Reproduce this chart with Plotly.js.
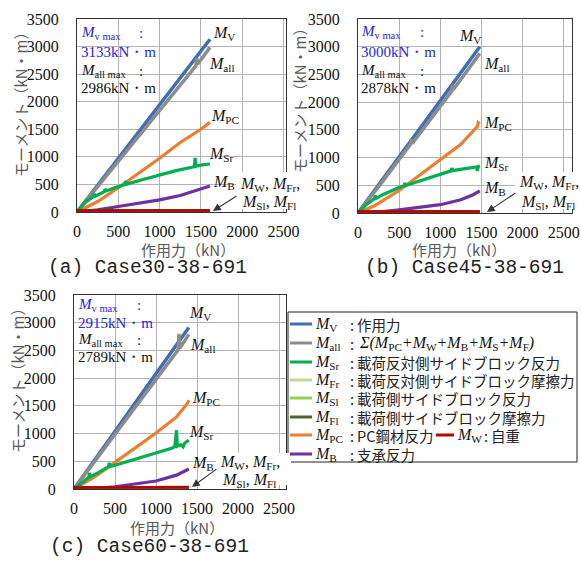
<!DOCTYPE html>
<html><head><meta charset="utf-8">
<script src="https://cdn.plot.ly/plotly-3.0.1.min.js"></script>
<style>html,body{margin:0;padding:0;background:#fff}#chart{width:581px;height:561px}</style>
</head><body><div id="chart"></div>
<script>
// ---------- DATA ----------
const xTicks = [0, 500, 1000, 1500, 2000, 2500];
const yTicks = [0, 500, 1000, 1500, 2000, 2500, 3000, 3500];
const captions = ["(a) Case30-38-691", "(b) Case45-38-691", "(c) Case60-38-691"];
const mvMaxText = ["3133kN・m", "3000kN・m", "2915kN・m"];
const mallMaxText = ["2986kN・m", "2878kN・m", "2789kN・m"];

// Panel (a) Case30
const a_xMV  = [0, 400, 800, 1200, 1610];
const a_MV   = [0, 780, 1560, 2335, 3133];
const a_xAll = [0, 400, 800, 1200, 1440, 1450, 1460, 1610];
const a_All  = [0, 735, 1475, 2210, 2650, 2790, 2680, 2986];
const a_xPC  = [0, 250, 500, 750, 1000, 1250, 1500, 1610];
const a_PC   = [0, 190, 440, 700, 975, 1260, 1500, 1625];
const a_xSr  = [0, 100, 200, 210, 220, 330, 340, 350, 500, 580, 590, 600, 800, 1000, 1200, 1420, 1430, 1440, 1500, 1610];
const a_Sr   = [0, 180, 280, 330, 285, 370, 420, 380, 460, 500, 560, 505, 590, 672, 750, 820, 980, 830, 850, 870];
const a_xB   = [0, 250, 500, 750, 1000, 1250, 1500, 1610];
const a_B    = [0, 40, 100, 160, 220, 300, 415, 470];
const a_xW   = [0, 800, 1610];
const a_W    = [25, 25, 28];
const a_xS   = [0, 800, 1610];
const a_Fr   = [2, 2, 2];
const a_Sl   = [1, 1, 1];
const a_Fl   = [0, 0, 0];

// Panel (b) Case45
const b_xMV  = [0, 400, 800, 1200, 1480];
const b_MV   = [0, 810, 1620, 2430, 3000];
const b_xAll = [0, 300, 640, 650, 660, 1000, 1140, 1150, 1160, 1480];
const b_All  = [0, 570, 1245, 1330, 1255, 1930, 2200, 2310, 2230, 2878];
const b_xPC  = [0, 200, 500, 750, 1000, 1250, 1450, 1460, 1480];
const b_PC   = [0, 130, 405, 680, 950, 1240, 1560, 1630, 1605];
const b_xSr  = [0, 100, 200, 210, 220, 300, 500, 560, 570, 580, 700, 1000, 1130, 1140, 1150, 1300, 1440, 1450, 1460, 1480];
const b_Sr   = [0, 150, 260, 320, 265, 330, 460, 490, 540, 495, 555, 700, 760, 810, 765, 800, 830, 760, 840, 850];
const b_xB   = [0, 250, 500, 750, 1000, 1250, 1400, 1480];
const b_B    = [0, 15, 55, 100, 150, 240, 330, 400];
const b_xW   = [0, 800, 1480];
const b_W    = [25, 25, 28];
const b_xS   = [0, 800, 1480];
const b_Fr   = [2, 2, 2];
const b_Sl   = [1, 1, 1];
const b_Fl   = [0, 0, 0];

// Panel (c) Case60
const c_xMV  = [0, 400, 800, 1200, 1400];
const c_MV   = [0, 835, 1665, 2500, 2915];
const c_xAll = [0, 400, 800, 1200, 1270, 1280, 1290, 1400];
const c_All  = [0, 790, 1590, 2380, 2510, 2800, 2540, 2789];
const c_xPC  = [0, 250, 500, 750, 1000, 1250, 1380, 1400];
const c_PC   = [0, 220, 480, 740, 1010, 1300, 1540, 1600];
const c_xSr  = [0, 100, 180, 190, 200, 300, 420, 430, 440, 500, 750, 1000, 1200, 1230, 1250, 1260, 1300, 1330, 1350, 1400];
const c_Sr   = [0, 120, 210, 290, 220, 300, 400, 470, 405, 430, 540, 640, 740, 770, 1060, 770, 800, 760, 830, 880];
const c_xB   = [0, 250, 500, 750, 1000, 1250, 1350, 1400];
const c_B    = [0, 10, 40, 90, 145, 250, 330, 360];
const c_xW   = [0, 700, 1400];
const c_W    = [25, 25, 35];
const c_xS   = [0, 700, 1400];
const c_Fr   = [2, 2, 2];
const c_Sl   = [1, 1, 1];
const c_Fl   = [0, 0, 0];

// ---------- STYLE ----------
const C = {MV:'#3f6fb0', All:'#8c8c8c', Sr:'#00b050', Fr:'#c4d79b', Sl:'#92d050', Fl:'#4f6228', PC:'#ed7d31', W:'#c00000', B:'#7030a0'};
const W = 581, H = 561;
const PX = x => x / W, PY = y => 1 - y / H;
const serif = 'Liberation Serif';
const jp = 'Noto Sans CJK JP';
const mono = 'Liberation Mono';

const panels = [
  {xa:'x',  ya:'y',  d:[a_xMV,a_MV,a_xAll,a_All,a_xPC,a_PC,a_xSr,a_Sr,a_xB,a_B,a_xW,a_W,a_xS,a_Fr,a_Sl,a_Fl]},
  {xa:'x2', ya:'y2', d:[b_xMV,b_MV,b_xAll,b_All,b_xPC,b_PC,b_xSr,b_Sr,b_xB,b_B,b_xW,b_W,b_xS,b_Fr,b_Sl,b_Fl]},
  {xa:'x3', ya:'y3', d:[c_xMV,c_MV,c_xAll,c_All,c_xPC,c_PC,c_xSr,c_Sr,c_xB,c_B,c_xW,c_W,c_xS,c_Fr,c_Sl,c_Fl]}
];
const traces = [];
function ln(x, y, color, w, xa, ya) {
  traces.push({type:'scatter', mode:'lines', x:x, y:y, xaxis:xa, yaxis:ya,
    line:{color:color, width:w}, hoverinfo:'skip', showlegend:false});
}
panels.forEach(p => {
  const d = p.d;
  ln(d[0], d[1], C.MV, 3.5, p.xa, p.ya);
  ln(d[2], d[3], C.All, 3.5, p.xa, p.ya);
  ln(d[4], d[5], C.PC, 3.2, p.xa, p.ya);
  ln(d[6], d[7], C.Sr, 3.2, p.xa, p.ya);
  ln(d[8], d[9], C.B, 3.2, p.xa, p.ya);
  ln(d[12], d[13], C.Fr, 4, p.xa, p.ya);
  ln(d[12], d[14], C.Sl, 4, p.xa, p.ya);
  ln(d[12], d[15], C.Fl, 6, p.xa, p.ya);
  ln(d[10], d[11], C.W, 2.5, p.xa, p.ya);
});

function xax(dom, rng) {
  return {domain:[PX(dom[0]), PX(dom[1])], range:rng, tickvals:xTicks, ticktext:xTicks.map(String),
    showgrid:true, gridcolor:'#b3b3b3', gridwidth:1, zeroline:false,
    showline:true, mirror:true, linecolor:'#333', linewidth:1,
    ticks:'', ticklabelstandoff:5, tickfont:{family:serif, size:16, color:'#111'}, fixedrange:true};
}
function yax(dom, anchor) {
  return {domain:[PY(dom[1]), PY(dom[0])], range:[0, 3500], tickvals:yTicks, ticktext:yTicks.map(String),
    showgrid:true, gridcolor:'#b3b3b3', gridwidth:1, zeroline:false, anchor:anchor,
    showline:true, mirror:true, linecolor:'#333', linewidth:1,
    ticks:'', ticklabelstandoff:14, tickfont:{family:serif, size:16, color:'#111'}, fixedrange:true};
}

const ann = [];
function A(text, x, y, o) {
  ann.push(Object.assign({text:text, x:PX(x), y:PY(y), xref:'paper', yref:'paper', showarrow:false,
    xanchor:'left', yanchor:'middle', font:{family:serif, size:16, color:'#111'}}, o || {}));
}
const M = s => '<i>M</i><sub>' + s + '</sub>';
const blue = '#2323f0';

// top-left max boxes
const boxes = [
  {x:79, cx:137, y:[33, 52, 71, 88]},
  {x:359, cx:418, y:[32, 52, 71, 88]},
  {x:76, cx:135, y:[305, 323, 340, 357]}
];
const bf = c => ({family:serif, size:15, color:c});
boxes.forEach((b, i) => {
  A(M('v max'), b.x, b.y[0], {font:bf(blue)});
  A(':', b.cx, b.y[0], {font:bf(blue)});
  A(mvMaxText[i], b.x, b.y[1], {font:bf(blue)});
  A(M('all max'), b.x, b.y[2], {font:bf('#111')});
  A(':', b.cx, b.y[2], {font:bf('#111')});
  A(mallMaxText[i], b.x, b.y[3], {font:bf('#111')});
});

// curve labels
const labs = [
  {V:[211,33], all:[207,65], PC:[209,117], Sr:[207,154], B:[211,182], w1:[238,184], w2:[240,202], arr:[213,211,25,-16]},
  {V:[457,37], all:[482,65], PC:[482,123], Sr:[482,163], B:[482,188], w1:[517,183], w2:[519,202], arr:[487,212,30,-20]},
  {V:[187,313], all:[188,345], PC:[190,398], Sr:[187,432], B:[190,463], w1:[218,462], w2:[220,480], arr:[192,487,26,-19]}
];
labs.forEach(l => {
  A(M('V'), l.V[0], l.V[1]);
  A(M('all'), l.all[0], l.all[1]);
  A(M('PC'), l.PC[0], l.PC[1]);
  A(M('Sr'), l.Sr[0], l.Sr[1]);
  A(M('B'), l.B[0], l.B[1]);
  A(M('W') + ', ' + M('Fr') + ',', l.w1[0], l.w1[1]);
  A(M('Sl') + ', ' + M('Fl'), l.w2[0], l.w2[1]);
  ann.push({x:PX(l.arr[0]), y:PY(l.arr[1]), xref:'paper', yref:'paper', ax:l.arr[2], ay:l.arr[3],
    showarrow:true, arrowhead:2, arrowsize:1.4, arrowwidth:1.1, arrowcolor:'#333', text:''});
});

// axis titles
[[20,101],[300,97],[17,377]].forEach(p => A('モーメント（kN・m）', p[0], p[1],
  {xanchor:'center', textangle:-90, font:{family:jp, size:15, color:'#595959'}}));
[[188,249],[459,249],[177,527]].forEach(p => A('作用力（kN）', p[0], p[1],
  {xanchor:'center', font:{family:jp, size:15, color:'#595959'}}));

// captions
[[147,268],[464,268],[149,547]].forEach((p, i) => A(captions[i], p[0], p[1],
  {xanchor:'center', font:{family:mono, size:19.5, color:'#222'}}));

// legend
const legRows = [
  {c:C.MV, m:'V', t:'作用力'},
  {c:C.All, m:'all', t:null},
  {c:C.Sr, m:'Sr', t:'載荷反対側サイドブロック反力'},
  {c:C.Fr, m:'Fr', t:'載荷反対側サイドブロック摩擦力'},
  {c:C.Sl, m:'Sl', t:'載荷側サイドブロック反力'},
  {c:C.Fl, m:'Fl', t:'載荷側サイドブロック摩擦力'},
  {c:C.PC, m:'PC', t:'PC鋼材反力'},
  {c:C.B, m:'B', t:'支承反力'}
];
const legY = [324, 343, 362, 380, 398, 417, 435, 454];
const shapes = [
  {type:'rect', xref:'paper', yref:'paper', x0:PX(288), x1:PX(577), y0:PY(462), y1:PY(312), line:{color:'#222', width:1}, fillcolor:'#fff', layer:'above'},
  {type:'rect', xref:'paper', yref:'paper', x0:PX(236), x1:PX(294), y0:PY(209), y1:PY(172), line:{width:0}, fillcolor:'#fff', layer:'above'},
  {type:'rect', xref:'paper', yref:'paper', x0:PX(515), x1:PX(579), y0:PY(209), y1:PY(172), line:{width:0}, fillcolor:'#fff', layer:'above'},
  {type:'rect', xref:'paper', yref:'paper', x0:PX(216), x1:PX(291), y0:PY(485), y1:PY(453), line:{width:0}, fillcolor:'#fff', layer:'above'}
];
legRows.forEach((r, i) => {
  const y = legY[i];
  shapes.push({type:'line', xref:'paper', yref:'paper', x0:PX(290), x1:PX(312), y0:PY(y), y1:PY(y), line:{color:r.c, width:3}, layer:'above'});
  A(M(r.m), 313, y);
  A(':', 348, y, {font:{family:jp, size:14.5, color:'#222'}});
  if (r.t) A(r.t, 355, y, {font:{family:jp, size:14.5, color:'#222'}});
});
A('<i>Σ(M</i><sub>PC</sub><i>+M</i><sub>W</sub><i>+M</i><sub>B</sub><i>+M</i><sub>S</sub><i>+M</i><sub>F</sub><i>)</i>', 357, legY[1]);
shapes.push({type:'line', xref:'paper', yref:'paper', x0:PX(436), x1:PX(454), y0:PY(legY[6]), y1:PY(legY[6]), line:{color:C.W, width:3}, layer:'above'});
A(M('W'), 455, legY[6]);
A(':', 482, legY[6], {font:{family:jp, size:14.5, color:'#222'}});
A('自重', 489, legY[6], {font:{family:jp, size:14.5, color:'#222'}});

const layout = {
  width:W, height:H, margin:{l:0, r:0, t:0, b:0}, paper_bgcolor:'#fff', plot_bgcolor:'#fff',
  showlegend:false,
  xaxis: Object.assign(xax([77, 286], [0, 2530]), {anchor:'y'}),
  yaxis: yax([19, 212], 'x'),
  xaxis2: Object.assign(xax([358, 572], [0, 2600]), {anchor:'y2'}),
  yaxis2: yax([19, 213], 'x2'),
  xaxis3: Object.assign(xax([74, 286], [0, 2585]), {anchor:'y3'}),
  yaxis3: yax([295, 489], 'x3'),
  annotations: ann, shapes: shapes
};
Plotly.newPlot('chart', traces, layout, {staticPlot:true, displayModeBar:false});
</script></body></html>
